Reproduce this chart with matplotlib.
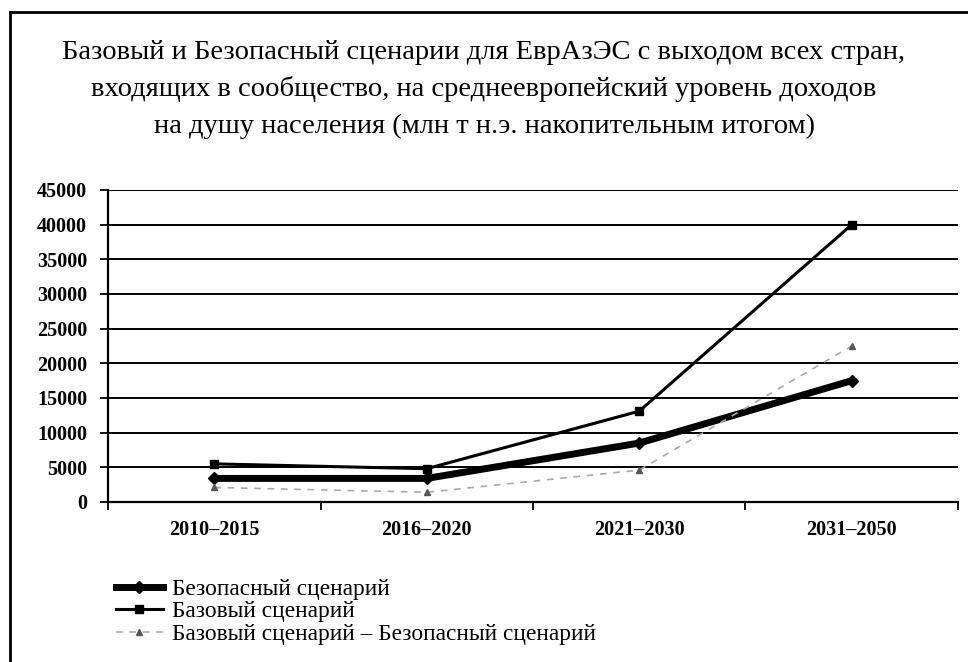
import matplotlib.pyplot as plt
from matplotlib.lines import Line2D

# данные
periods = ["2010–2015", "2016–2020", "2021–2030", "2031–2050"]
bezopasny = [3400, 3400, 8500, 17500]
bazovy = [5500, 4800, 13100, 40000]
raznica = [2100, 1400, 4600, 22500]

title = ("Базовый и Безопасный сценарии для ЕврАзЭС с выходом всех стран,\n"
         "входящих в сообщество, на среднеевропейский уровень доходов\n"
         "на душу населения (млн т н.э. накопительным итогом)")
names = ["Безопасный сценарий", "Базовый сценарий",
         "Базовый сценарий – Безопасный сценарий"]

plt.rcParams['font.family'] = ['Liberation Serif', 'DejaVu Serif']

fig = plt.figure(figsize=(9.68, 6.62), dpi=100)
ax = fig.add_axes([0.1116, 0.2417, 0.878, 0.4713])

x = range(len(periods))
l1, = ax.plot(x, bezopasny, color='black', lw=5, marker='D', ms=6)
l2, = ax.plot(x, bazovy, color='black', lw=2.2, marker='s', ms=6)
l3, = ax.plot(x, raznica, color='#aaaaaa', lw=1.2, ls=(0, (4, 4)),
              marker='^', ms=5, mfc='#555555', mec='#555555')

ax.set_xlim(-0.5, 3.5)
ax.set_ylim(0, 45000)
ax.set_yticks(range(0, 45001, 5000))
ax.yaxis.grid(True, color='black', lw=1.4)
ax.set_axisbelow(True)

ax.set_xticks(list(x))
ax.set_xticklabels(periods)
ax.set_xticks([-0.5, 0.5, 1.5, 2.5, 3.5], minor=True)
ax.tick_params(axis='x', which='major', length=0, pad=13, labelsize=14.5)
ax.tick_params(axis='x', which='minor', length=6, width=1.3, direction='out')
ax.tick_params(axis='y', length=6, width=1.3, pad=9, labelsize=14.5)
for lab in ax.get_xticklabels() + ax.get_yticklabels():
    lab.set_fontweight('bold')

for s in ['top', 'right']:
    ax.spines[s].set_visible(False)
ax.spines['left'].set_linewidth(1.6)
ax.spines['bottom'].set_linewidth(1.6)

fig.text(0.5, 0.94, title, ha='center', va='top', fontsize=20.5,
         linespacing=1.58)

fig.legend([l1, l2, l3], names, loc='lower left',
           bbox_to_anchor=(0.098, -0.006), frameon=False, fontsize=16.8,
           handlelength=2.0, handletextpad=0.4, labelspacing=0.05)

# рамка
fig.add_artist(Line2D([10 / 968, 10 / 968], [0, 1 - 12 / 662],
                      transform=fig.transFigure, color='black', lw=2))
fig.add_artist(Line2D([10 / 968, 1], [1 - 12 / 662, 1 - 12 / 662],
                      transform=fig.transFigure, color='black', lw=2))

fig.savefig('out.png', dpi=100)
